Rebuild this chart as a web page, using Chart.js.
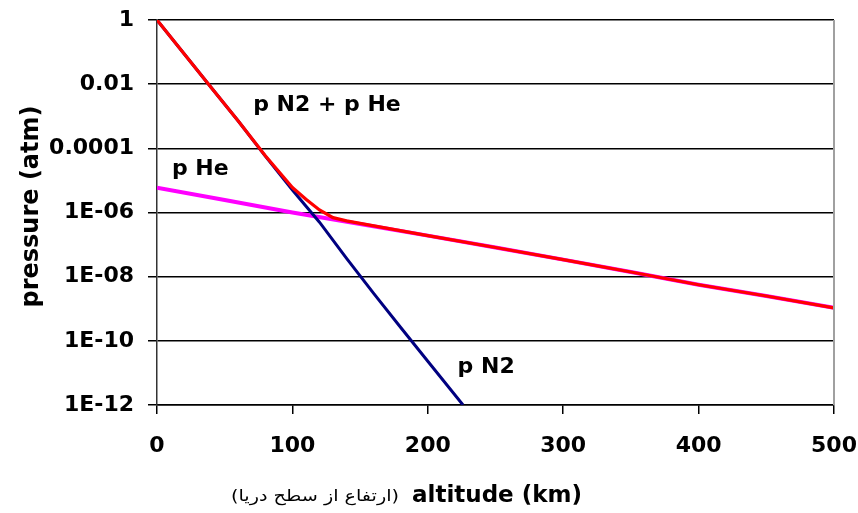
<!DOCTYPE html>
<html>
<head>
<meta charset="utf-8">
<script src="https://cdn.jsdelivr.net/npm/chart.js@4/dist/chart.umd.min.js"></script>
<style>
  body { margin: 0; background: #fff; }
  #wrap { width: 858px; height: 513px; }
</style>
</head>
<body>
<div id="wrap"><canvas id="c" width="858" height="513"></canvas></div>
<script>
  // altitude (km) and pressure (atm)
  const n2Alt = [0, 20, 40, 60, 80, 100, 120, 140, 160, 180, 200, 226];
  const n2P = [1, 0.089, 0.0079, 7.1e-4, 5.7e-5, 5e-6, 5e-7, 3.7e-8, 3e-9, 2.6e-10, 2.3e-11, 1e-12];

  const heAlt = [0, 50, 100, 150, 200, 250, 300, 350, 400, 450, 500];
  const heP = [5.9e-6, 2.45e-6, 1.0e-6, 4.4e-7, 1.9e-7, 8.1e-8, 3.4e-8, 1.4e-8, 5.6e-9, 2.5e-9, 1.07e-9];

  const sumAlt = [0, 20, 40, 60, 80, 100, 110, 120, 130, 140, 150, 200, 250, 300, 350, 400, 450, 500];
  const sumP = [1, 0.089, 0.0079, 7.1e-4, 5.9e-5, 6.0e-6, 2.6e-6, 1.2e-6, 6.9e-7, 5.5e-7, 4.6e-7, 1.9e-7, 8.1e-8, 3.4e-8, 1.4e-8, 5.6e-9, 2.5e-9, 1.07e-9];

  const yTickValues = [1e-12, 1e-10, 1e-8, 1e-6, 1e-4, 1e-2, 1];
  const yTickLabels = ["1E-12", "1E-10", "1E-08", "1E-06", "0.0001", "0.01", "1"];

  const font = "DejaVu Sans";

  function pts(xs, ys) {
    return xs.map((x, i) => ({ x, y: ys[i] }));
  }

  // labels inside the plot, placed in data units
  const notes = [
    { text: "p N2 + p He", x: 71, y: 2.2e-3 },
    { text: "p He", x: 11, y: 2.2e-5 },
    { text: "p N2", x: 222, y: 1.5e-11 }
  ];

  const extras = {
    id: "extras",
    afterDraw(chart) {
      const ctx = chart.ctx;
      const a = chart.chartArea;
      const xs = chart.scales.x, ys = chart.scales.y;
      ctx.save();
      // grey frame on right
      ctx.strokeStyle = "#a0a0a0";
      ctx.lineWidth = 2;
      ctx.beginPath();
      ctx.moveTo(a.right, a.top);
      ctx.lineTo(a.right, a.bottom);
      ctx.stroke();

      ctx.fillStyle = "#000";
      ctx.font = "bold 22px '" + font + "'";
      ctx.textBaseline = "middle";
      ctx.textAlign = "left";
      notes.forEach(n => {
        ctx.fillText(n.text, xs.getPixelForValue(n.x), ys.getPixelForValue(n.y));
      });

      // y title
      ctx.save();
      ctx.translate(32, (a.top + a.bottom) / 2 - 6);
      ctx.rotate(-Math.PI / 2);
      ctx.textAlign = "center";
      ctx.font = "bold 24px '" + font + "'";
      ctx.fillText("pressure (atm)", 0, 0);
      ctx.restore();

      // x title
      ctx.textAlign = "left";
      ctx.font = "bold 23px '" + font + "'";
      ctx.fillText("altitude (km)", 412, 496);

      // persian part, stretched wide like the original
      const fa = "(ارتفاع از سطح دریا)";
      ctx.font = "16px '" + font + "'";
      const w = ctx.measureText(fa).width;
      ctx.save();
      ctx.translate(399, 497);
      ctx.scale(168 / w, 1);
      ctx.textAlign = "right";
      ctx.fillText(fa, 0, 0);
      ctx.restore();
      ctx.restore();
    }
  };

  new Chart(document.getElementById("c"), {
    type: "line",
    data: {
      datasets: [
        { label: "p N2 + p He", data: pts(sumAlt, sumP), borderColor: "#ff0000", borderWidth: 3.2, order: 0 },
        { label: "p N2", data: pts(n2Alt, n2P), borderColor: "#000080", borderWidth: 3, order: 1 },
        { label: "p He", data: pts(heAlt, heP), borderColor: "#ff00ff", borderWidth: 4, order: 2 }
      ]
    },
    options: {
      responsive: false,
      animation: false,
      events: [],
      layout: { padding: { left: 0, right: 24, top: 20, bottom: 0 } },
      elements: { point: { radius: 0 }, line: { tension: 0 } },
      plugins: { legend: { display: false }, tooltip: { enabled: false } },
      scales: {
        x: {
          type: "linear",
          min: 0,
          max: 500,
          afterFit(s) { s.height = 108; s.paddingLeft = 0; s.paddingRight = 0; },
          ticks: { stepSize: 100, padding: 19, color: "#000", font: { family: font, size: 22, weight: "bold" } },
          grid: { drawOnChartArea: false, drawTicks: true, tickLength: 9, color: "#000", lineWidth: 1.5 },
          border: { color: "#000", width: 1.5 }
        },
        y: {
          type: "logarithmic",
          min: 1e-12,
          max: 1,
          afterFit(s) { s.width = 157; s.paddingTop = 0; s.paddingBottom = 0; },
          afterBuildTicks(s) { s.ticks = yTickValues.map(v => ({ value: v })); },
          ticks: {
            padding: 14,
            color: "#000",
            font: { family: font, size: 22, weight: "bold" },
            callback: (v) => yTickLabels[yTickValues.indexOf(v)]
          },
          grid: { color: "#000", lineWidth: 1.5, tickLength: 9 },
          border: { color: "#333", width: 1.5 }
        }
      }
    },
    plugins: [extras]
  });
</script>
</body>
</html>
